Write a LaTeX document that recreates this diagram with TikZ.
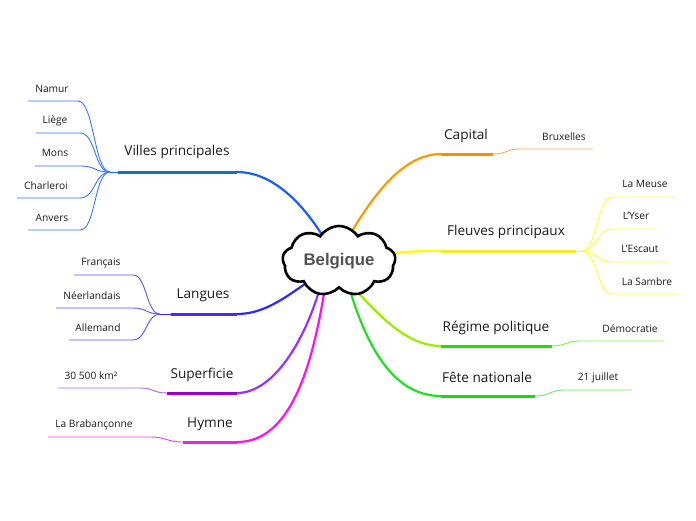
\documentclass[tikz,border=0pt]{standalone}
\usepackage{fontspec}
\setmainfont{Open Sans}
\newfontfamily\cloudfont{Liberation Sans}
\usetikzlibrary{shapes.symbols,calc}
\pgfdeclarelayer{background}
\pgfsetlayers{background,main}
\definecolor{txt}{HTML}{1A1A1A}
\definecolor{vC}{HTML}{1A5CFF}\definecolor{vT}{HTML}{1670B8}\definecolor{vS}{HTML}{3A78F0}
\definecolor{lC}{HTML}{2A2AFF}\definecolor{lT}{HTML}{4A2AE8}\definecolor{lS}{HTML}{6050FF}
\definecolor{sC}{HTML}{9A30FF}\definecolor{sT}{HTML}{9900CC}\definecolor{sS}{HTML}{B060FF}
\definecolor{hC}{HTML}{FF10F0}\definecolor{hT}{HTML}{EE22DD}\definecolor{hS}{HTML}{EE40EE}
\definecolor{cC}{HTML}{FF9900}\definecolor{cT}{HTML}{FF8C00}\definecolor{cS}{HTML}{FFB050}
\definecolor{fC}{HTML}{FFFF00}\definecolor{fT}{HTML}{EEEE30}\definecolor{fS}{HTML}{FFFF33}
\definecolor{rC}{HTML}{99EE00}\definecolor{rT}{HTML}{22DD00}\definecolor{rS}{HTML}{88EE44}
\definecolor{nC}{HTML}{22DD22}\definecolor{nT}{HTML}{11DD11}\definecolor{nS}{HTML}{66EE66}
\tikzset{
  mainlbl/.style={font=\fontsize{13.6}{16}\selectfont, text=txt, inner sep=0pt},
  leaflbl/.style={font=\fontsize{10.2}{12}\selectfont, text=txt, inner sep=0pt},
  trunk/.style={line width=2.2pt, line cap=round},
  bar/.style={line width=3pt},
  twig/.style={line width=0.9pt},
}
\begin{document}
\begin{tikzpicture}[x=1pt,y=-1pt]
\useasboundingbox (0,0) rectangle (696,520);
% central cloud
\node[cloud, cloud puffs=9, cloud puff arc=115, cloud ignores aspect, minimum width=113pt, minimum height=70pt,
      draw, line width=2.6pt, fill=white, font=\cloudfont\bfseries\fontsize{16.8}{19}\selectfont, text=black!68]
      (c) at (339,261) {Belgique};

% ---------- coordinates of bars ----------
\coordinate (vL) at (118,172); \coordinate (vR) at (237,172); \coordinate (vJ) at (110,172);
\coordinate (lL) at (171,314); \coordinate (lR) at (237,314); \coordinate (lJ) at (160,314);
\coordinate (sL) at (167,393); \coordinate (sR) at (237,393);
\coordinate (hL) at (183,442); \coordinate (hR) at (237,442);
\coordinate (cL) at (441,154); \coordinate (cR) at (493,154);
\coordinate (fL) at (441,251); \coordinate (fR) at (576,251); \coordinate (fJ) at (582,251);
\coordinate (rL) at (441,346); \coordinate (rR) at (552,346);
\coordinate (nL) at (441,396); \coordinate (nR) at (535,396);

% leaf underline ends
\coordinate (a1) at (28,101);  \coordinate (b1) at (78,101);
\coordinate (a2) at (36,133);  \coordinate (b2) at (80,133);
\coordinate (a3) at (35,166);  \coordinate (b3) at (80,166);
\coordinate (a4) at (17,198);  \coordinate (b4) at (80,198);
\coordinate (a5) at (28,230);  \coordinate (b5) at (80,230);
\coordinate (a6) at (74,275);  \coordinate (b6) at (133,275);
\coordinate (a7) at (56,308);  \coordinate (b7) at (133,308);
\coordinate (a8) at (69,340);  \coordinate (b8) at (133,340);
\coordinate (a9) at (58,388);  \coordinate (b9) at (140,388);
\coordinate (a10) at (48,437); \coordinate (b10) at (150,437);
\coordinate (a11) at (520,149); \coordinate (b11) at (593,149);
\coordinate (a12) at (612,197); \coordinate (b12) at (674,197);
\coordinate (a13) at (612,229); \coordinate (b13) at (657,229);
\coordinate (a14) at (612,262); \coordinate (b14) at (667,262);
\coordinate (a15) at (612,294); \coordinate (b15) at (679,294);
\coordinate (a16) at (580,341); \coordinate (b16) at (664,341);
\coordinate (a17) at (565,390); \coordinate (b17) at (632,390);

\begin{pgfonlayer}{background}
% trunks from cloud
\draw[trunk, vC] (c.123) .. controls (297,196) and (268,172) .. (vR);
\draw[trunk, lC] (c.214) .. controls (282,300) and (262,314) .. (lR);
\draw[trunk, sC] (c.238) .. controls (302,345) and (272,393) .. (sR);
\draw[trunk, hC] (c.246) .. controls (308,390) and (282,442) .. (hR);
\draw[trunk, cC] (c.66) .. controls (380,185) and (408,154) .. (cL);
\draw[trunk, fC] (c.8) .. controls (415,251) and (425,251) .. (fL);
\draw[trunk, rC] (c.-58) .. controls (388,325) and (412,346) .. (rL);
\draw[trunk, nC] (c.-70) .. controls (372,360) and (400,396) .. (nL);
\end{pgfonlayer}

% bars
\draw[bar, vT] (vL) -- (vR); \draw[twig, vC] (vJ) -- (vL);
\draw[bar, lT] (lL) -- (lR); \draw[twig, lC] (lJ) -- (lL);
\draw[bar, sT] (sL) -- (sR);
\draw[bar, hT] (hL) -- (hR);
\draw[bar, cT] (cL) -- (cR);
\draw[bar, fT] (fL) -- (fR); \draw[twig, fC] (fR) -- (fJ);
\draw[bar, rT] (rL) -- (rR);
\draw[bar, nT] (nL) -- (nR);

% main labels
\node[mainlbl] (vN) at (177,152) {Villes principales};
\node[mainlbl] (lN) at (203,295) {Langues};
\node[mainlbl] (sN) at (202,375) {Superficie};
\node[mainlbl] (hN) at (210,424) {Hymne};
\node[mainlbl] (cN) at (466,136) {Capital};
\node[mainlbl] (fN) at (506,232) {Fleuves principaux};
\node[mainlbl] (rN) at (496,328) {Régime politique};
\node[mainlbl] (nN) at (487,377) {Fête nationale};

% twigs to leaves
\foreach \i in {1,...,5} {
  \draw[twig, vS] (vJ) .. controls ($(vJ)+(-16,0)$) and ($(b\i)+(16,0)$) .. (b\i) -- (a\i);
}
\foreach \i in {6,7,8} {
  \draw[twig, lS] (lJ) .. controls ($(lJ)+(-14,0)$) and ($(b\i)+(14,0)$) .. (b\i) -- (a\i);
}
\draw[twig, sS] (sL) .. controls ($(sL)+(-14,0)$) and ($(b9)+(14,0)$) .. (b9) -- (a9);
\draw[twig, hS] (hL) .. controls ($(hL)+(-16,0)$) and ($(b10)+(16,0)$) .. (b10) -- (a10);
\draw[twig, cS] (cR) .. controls ($(cR)+(14,0)$) and ($(a11)+(-14,0)$) .. (a11) -- (b11);
\foreach \i in {12,...,15} {
  \draw[twig, fS] (fJ) .. controls ($(fJ)+(15,0)$) and ($(a\i)+(-15,0)$) .. (a\i) -- (b\i);
}
\draw[twig, rS] (rR) .. controls ($(rR)+(14,0)$) and ($(a16)+(-14,0)$) .. (a16) -- (b16);
\draw[twig, nS] (nR) .. controls ($(nR)+(15,0)$) and ($(a17)+(-15,0)$) .. (a17) -- (b17);

% leaf labels
\node[leaflbl] (t1) at (52,89) {Namur};
\node[leaflbl] (t2) at (55,121) {Liège};
\node[leaflbl] (t3) at (55,153) {Mons};
\node[leaflbl] (t4) at (46,186) {Charleroi};
\node[leaflbl] (t5) at (52,218) {Anvers};
\node[leaflbl] (t6) at (101,263) {Français};
\node[leaflbl] (t7) at (92,296) {Néerlandais};
\node[leaflbl] (t8) at (98,328) {Allemand};
\node[leaflbl] (t9) at (91,376) {30 500 km²};
\node[leaflbl] (t10) at (94,425) {La Brabançonne};
\node[leaflbl] (t11) at (564,137) {Bruxelles};
\node[leaflbl] (t12) at (645,184) {La Meuse};
\node[leaflbl] (t13) at (636,216) {L'Yser};
\node[leaflbl] (t14) at (640,249) {L'Escaut};
\node[leaflbl] (t15) at (647,282) {La Sambre};
\node[leaflbl] (t16) at (630,329) {Démocratie};
\node[leaflbl] (t17) at (598,378) {21 juillet};
\end{tikzpicture}
\end{document}
